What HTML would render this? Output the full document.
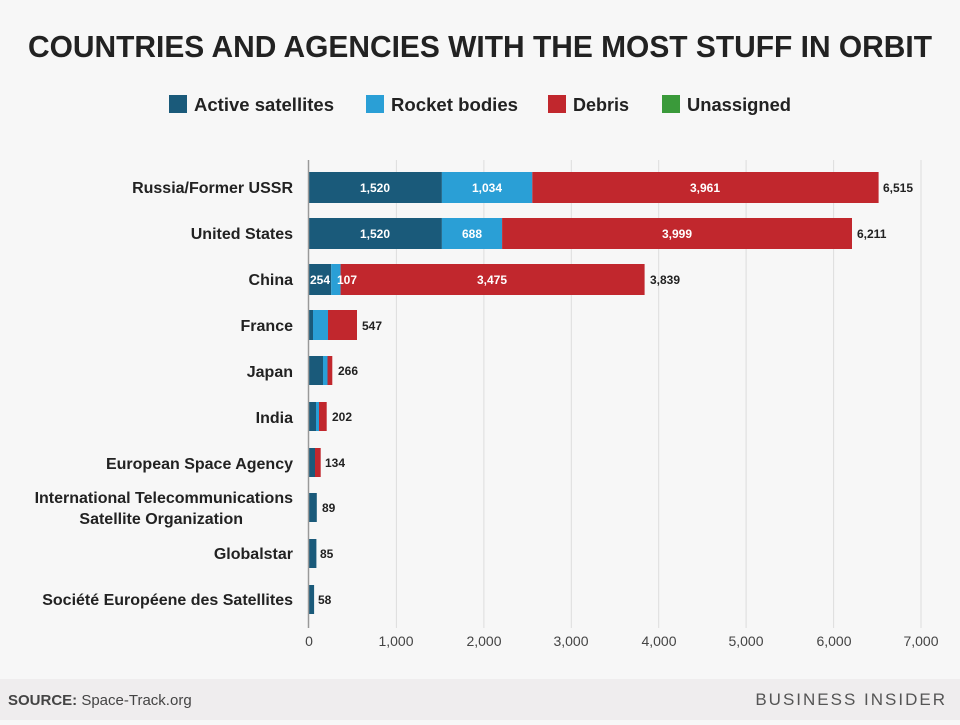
<!DOCTYPE html>
<html><head><meta charset="utf-8"><style>
body{margin:0;width:960px;height:720px;background:#f7f7f7;font-family:"Liberation Sans",sans-serif;overflow:hidden}
</style></head><body>
<svg width="960" height="720" xmlns="http://www.w3.org/2000/svg" font-family="Liberation Sans, sans-serif">
<rect width="960" height="720" fill="#f7f7f7"/>
<text x="28" y="57" font-size="31" font-weight="bold" fill="#222" textLength="904" lengthAdjust="spacingAndGlyphs">COUNTRIES AND AGENCIES WITH THE MOST STUFF IN ORBIT</text>
<g font-size="18" font-weight="bold" fill="#222">
<rect x="169" y="95" width="18" height="18" fill="#1a5a7a"/><text x="194" y="111" textLength="140" lengthAdjust="spacingAndGlyphs">Active satellites</text>
<rect x="366" y="95" width="18" height="18" fill="#2a9fd6"/><text x="391" y="111" textLength="127" lengthAdjust="spacingAndGlyphs">Rocket bodies</text>
<rect x="548" y="95" width="18" height="18" fill="#c1272d"/><text x="573" y="111">Debris</text>
<rect x="662" y="95" width="18" height="18" fill="#3a9a3a"/><text x="687" y="111" textLength="104" lengthAdjust="spacingAndGlyphs">Unassigned</text>
</g>
<g stroke="#dddddd" stroke-width="1">
<line x1="396.4" y1="160" x2="396.4" y2="628"/><line x1="483.9" y1="160" x2="483.9" y2="628"/>
<line x1="571.3" y1="160" x2="571.3" y2="628"/><line x1="658.7" y1="160" x2="658.7" y2="628"/>
<line x1="746.1" y1="160" x2="746.1" y2="628"/><line x1="833.6" y1="160" x2="833.6" y2="628"/>
<line x1="921" y1="160" x2="921" y2="628"/>
</g>
<g>
<rect x="309" y="172" width="132.9" height="31" fill="#1a5a7a"/><rect x="441.9" y="172" width="90.4" height="31" fill="#2a9fd6"/><rect x="532.3" y="172" width="346.3" height="31" fill="#c1272d"/>
<rect x="309" y="218" width="132.9" height="31" fill="#1a5a7a"/><rect x="441.9" y="218" width="60.2" height="31" fill="#2a9fd6"/><rect x="502.1" y="218" width="349.9" height="31" fill="#c1272d"/>
<rect x="309" y="264" width="22.2" height="31" fill="#1a5a7a"/><rect x="331.2" y="264" width="9.4" height="31" fill="#2a9fd6"/><rect x="340.6" y="264" width="304" height="31" fill="#c1272d"/>
<rect x="309" y="310" width="4" height="30" fill="#1a5a7a"/><rect x="313" y="310" width="15" height="30" fill="#2a9fd6"/><rect x="328" y="310" width="29" height="30" fill="#c1272d"/>
<rect x="309" y="356" width="14" height="29" fill="#1a5a7a"/><rect x="323" y="356" width="4.5" height="29" fill="#2a9fd6"/><rect x="327.5" y="356" width="4.8" height="29" fill="#c1272d"/>
<rect x="309" y="402" width="7" height="29" fill="#1a5a7a"/><rect x="316" y="402" width="3" height="29" fill="#2a9fd6"/><rect x="319" y="402" width="7.7" height="29" fill="#c1272d"/>
<rect x="309" y="448" width="6" height="29" fill="#1a5a7a"/><rect x="315" y="448" width="5.7" height="29" fill="#c1272d"/>
<rect x="309" y="493" width="7.8" height="29" fill="#1a5a7a"/>
<rect x="309" y="539" width="7.4" height="29" fill="#1a5a7a"/>
<rect x="309" y="585" width="5.1" height="29" fill="#1a5a7a"/>
</g>
<line x1="308.5" y1="160" x2="308.5" y2="628" stroke="#999" stroke-width="1.5"/>
<g font-size="12" font-weight="bold" fill="#fff" text-anchor="middle">
<text x="375" y="192">1,520</text><text x="487" y="192">1,034</text><text x="705" y="192">3,961</text>
<text x="375" y="238">1,520</text><text x="472" y="238">688</text><text x="677" y="238">3,999</text>
<text x="320" y="284">254</text><text x="347" y="284">107</text><text x="492" y="284">3,475</text>
</g>
<g font-size="12" font-weight="bold" fill="#222">
<text x="883" y="192">6,515</text><text x="857" y="238">6,211</text><text x="650" y="284">3,839</text>
<text x="362" y="330">547</text><text x="338" y="375">266</text><text x="332" y="421">202</text>
<text x="325" y="467">134</text><text x="322" y="512">89</text><text x="320" y="558">85</text><text x="318" y="604">58</text>
</g>
<g font-size="16" font-weight="bold" fill="#222" text-anchor="end">
<text x="293" y="193">Russia/Former USSR</text>
<text x="293" y="239">United States</text>
<text x="293" y="285">China</text>
<text x="293" y="331">France</text>
<text x="293" y="377">Japan</text>
<text x="293" y="423">India</text>
<text x="293" y="469">European Space Agency</text>
<text x="293" y="503">International Telecommunications</text>
<text x="243" y="524">Satellite Organization</text>
<text x="293" y="559">Globalstar</text>
<text x="293" y="605">Société Européene des Satellites</text>
</g>
<g font-size="14" fill="#444" text-anchor="middle">
<text x="309" y="646">0</text><text x="396" y="646">1,000</text><text x="484" y="646">2,000</text><text x="571" y="646">3,000</text>
<text x="659" y="646">4,000</text><text x="746" y="646">5,000</text><text x="834" y="646">6,000</text><text x="921" y="646">7,000</text>
</g>
<rect x="0" y="679" width="960" height="41" fill="#efedee"/>
<text x="8" y="705" font-size="15" fill="#444"><tspan font-weight="bold">SOURCE:</tspan> Space-Track.org</text>
<text x="947" y="705" font-size="17" fill="#555" text-anchor="end" letter-spacing="2">BUSINESS INSIDER</text>
</svg>
</body></html>
